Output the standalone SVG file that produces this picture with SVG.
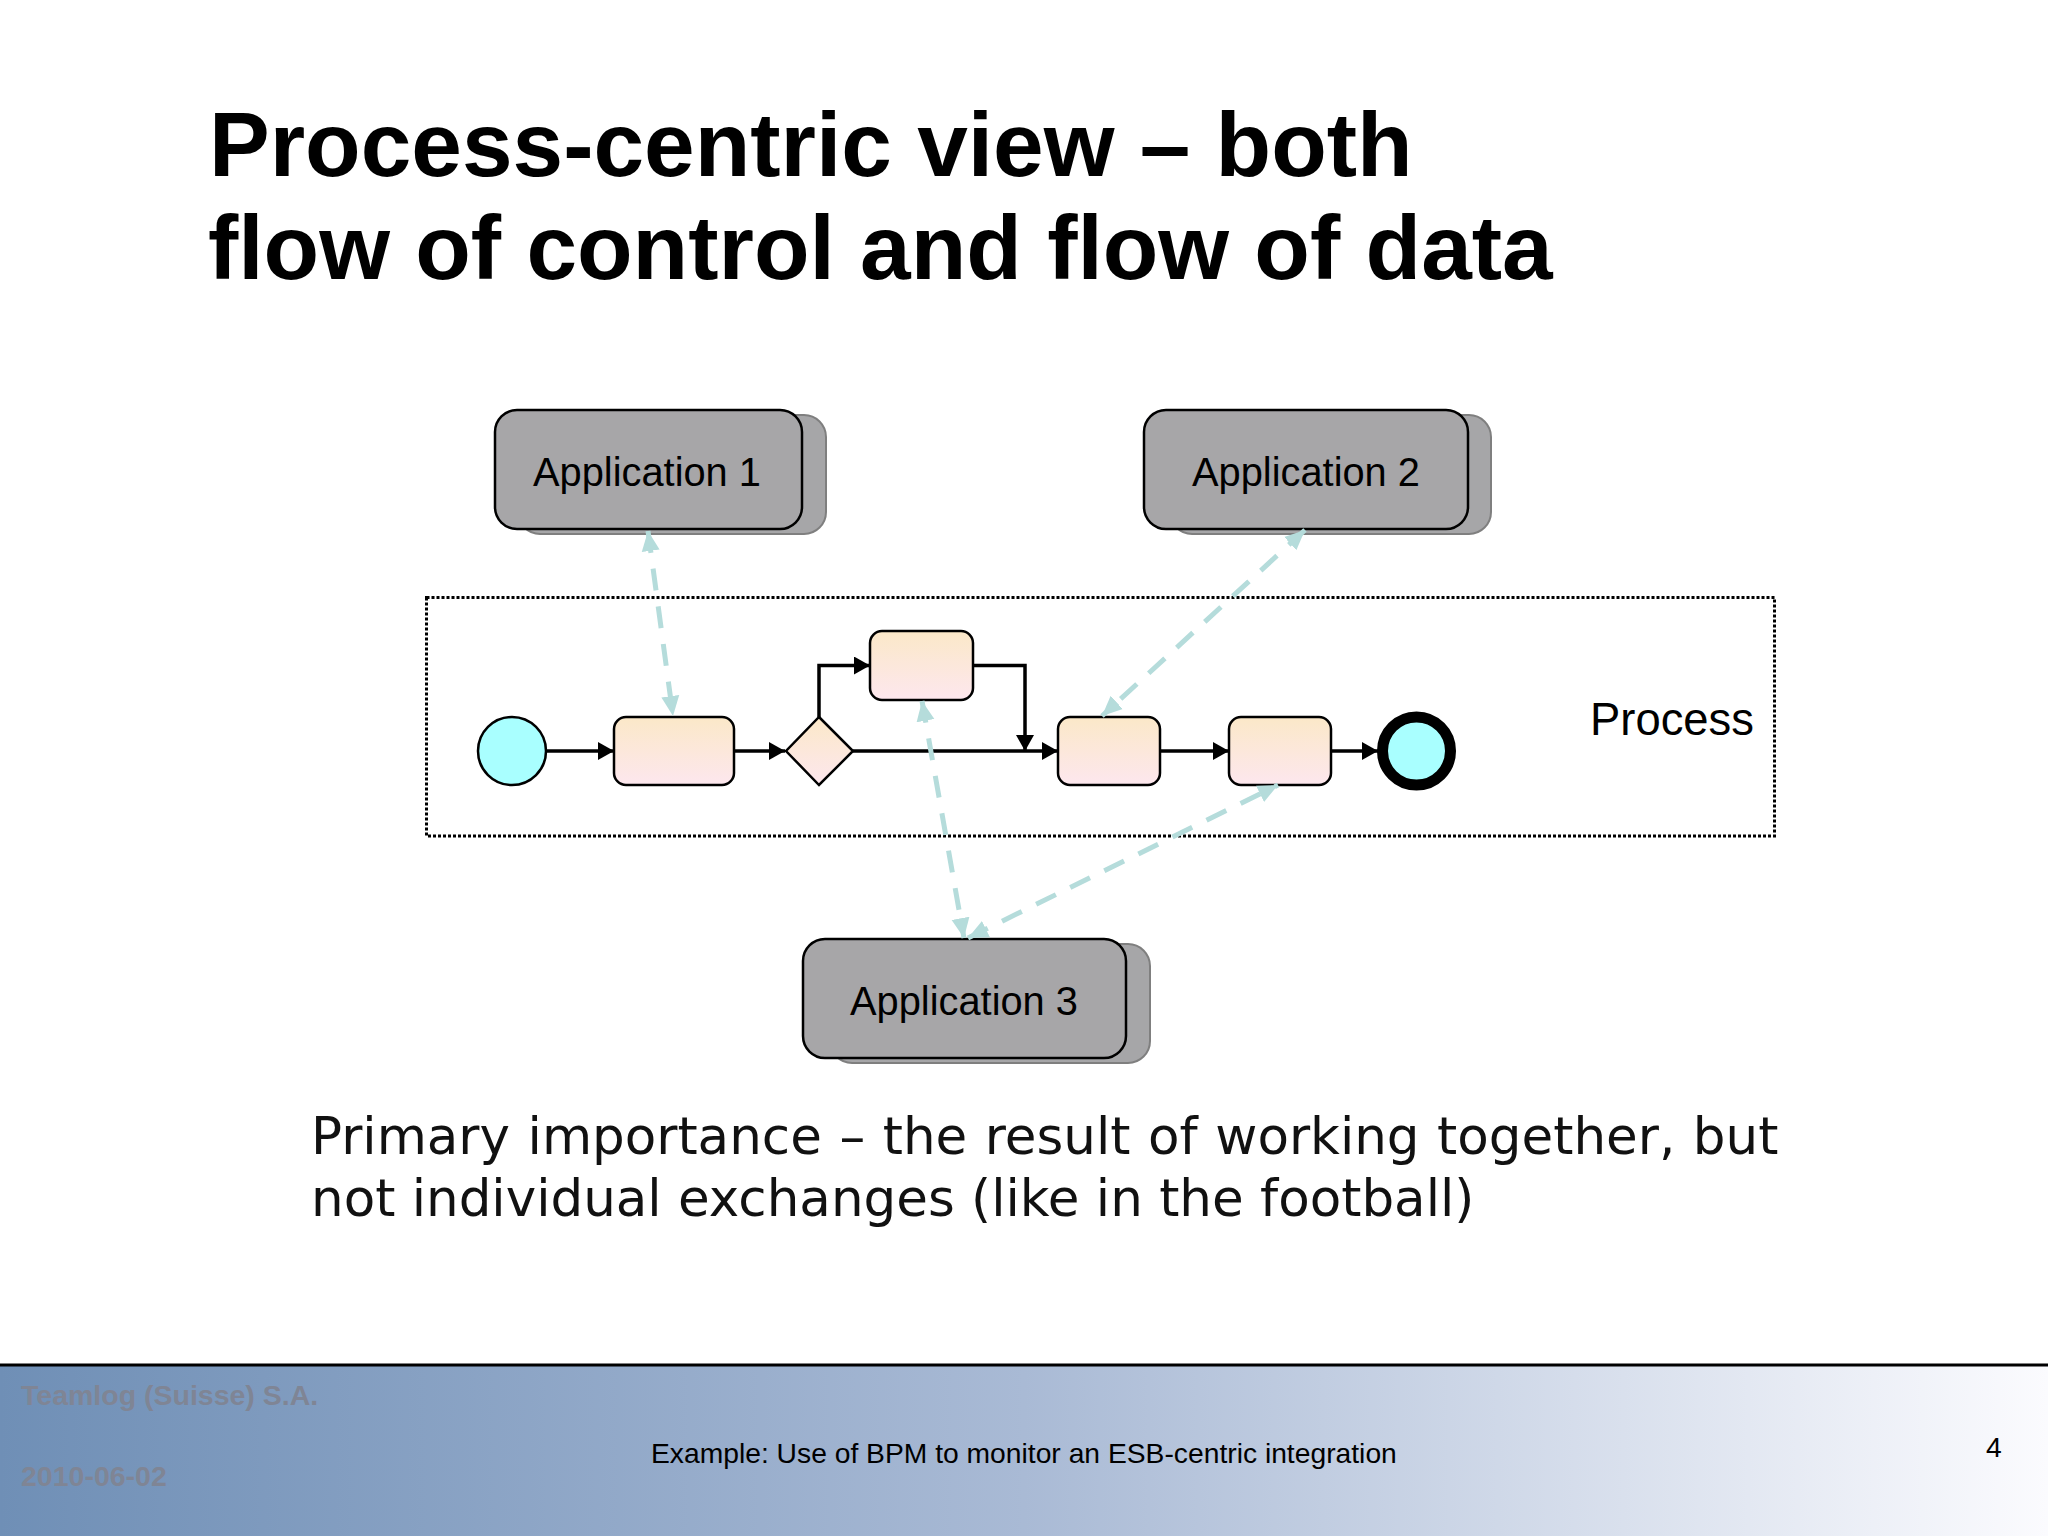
<svg xmlns="http://www.w3.org/2000/svg" width="2048" height="1536" viewBox="0 0 2048 1536">
<style>
text{font-family:"Liberation Sans",Arial,sans-serif;fill:#000}
.title{font-size:91px;font-weight:700}
.body{font-family:"DejaVu Sans",sans-serif;font-size:51.500px;fill:#111}
.app{font-size:39.800px;text-anchor:middle}
.foot{font-size:28.250px}
.muted{font-size:28.500px;font-weight:700;fill:#7f8595}
.back{fill:#a6a6a8;stroke:#7f7f7f;stroke-width:2}
.front{fill:#a7a6a8;stroke:#000;stroke-width:2.500}
.task{fill:url(#taskFill);stroke:#000;stroke-width:2.500}
.flow{fill:none;stroke:#000;stroke-width:3.500}
.msg{fill:none;stroke:#b5dcdb;stroke-width:5;stroke-dasharray:22 16}
</style>
<defs>
<linearGradient id="taskFill" x1="0" y1="0" x2="0" y2="1"><stop offset="0" stop-color="#fbe8c8"/><stop offset="1" stop-color="#fde7ee"/></linearGradient>
<linearGradient id="footFill" x1="0" y1="0" x2="1" y2="0"><stop offset="0" stop-color="#6f8fb6"/><stop offset=".5" stop-color="#a9bad5"/><stop offset="1" stop-color="#fbfbfe"/></linearGradient>
<marker id="flowHead" markerUnits="userSpaceOnUse" markerWidth="16" markerHeight="18" refX="16" refY="9" orient="auto"><path d="M0 0L16 9L0 18Z" fill="#000"/></marker>
<marker id="msgHead" markerUnits="userSpaceOnUse" markerWidth="22" markerHeight="22" refX="20" refY="11" orient="auto"><path d="M0 2L20 11L0 20Z" fill="#b5dcdb"/></marker>
<marker id="msgStart" markerUnits="userSpaceOnUse" markerWidth="22" markerHeight="22" refX="2" refY="11" orient="auto"><path d="M22 2L2 11L22 20Z" fill="#b5dcdb"/></marker>
</defs>
<rect width="2048" height="1536" fill="#fff"/>
<text class="title" x="209" y="176">Process-centric view – both</text>
<text class="title" x="208" y="279">flow of control and flow of data</text>
<g id="process-frame"><rect x="426.500" y="597.500" width="1348" height="238.500" fill="none" stroke="#000" stroke-width="3" stroke-dasharray="3 2"/><text x="1590" y="735" font-size="45.400">Process</text></g>
<g id="application-1"><rect class="back" x="518" y="415" width="308" height="119" rx="22"/><rect class="front" x="495" y="410" width="307" height="119" rx="22"/><text class="app" x="647" y="486">Application 1</text></g>
<g id="application-2"><rect class="back" x="1170" y="415" width="321" height="119" rx="22"/><rect class="front" x="1144" y="410" width="324" height="119" rx="22"/><text class="app" x="1306" y="486">Application 2</text></g>
<g id="application-3"><rect class="back" x="830" y="944" width="320" height="119" rx="22"/><rect class="front" x="803" y="939" width="323" height="119" rx="22"/><text class="app" x="964" y="1015">Application 3</text></g>
<g id="start"><ellipse cx="512" cy="751" rx="34" ry="34" fill="#a9ffff" stroke="#000" stroke-width="2.500"/></g>
<g id="task-1"><rect class="task" x="614" y="717" width="120" height="68" rx="12"/></g>
<g id="gateway"><path class="task" d="M819 717L853 751L819 785L786 751Z"/></g>
<g id="task-2"><rect class="task" x="870" y="631" width="103" height="69" rx="12"/></g>
<g id="task-3"><rect class="task" x="1058" y="717" width="102" height="68" rx="12"/></g>
<g id="task-4"><rect class="task" x="1229" y="717" width="102" height="68" rx="12"/></g>
<g id="end"><ellipse cx="1416.500" cy="751" rx="34" ry="34" fill="#a9ffff" stroke="#000" stroke-width="11"/></g>
<g id="connectors">
<path class="flow" marker-end="url(#flowHead)" d="M546 751H614"/>
<path class="flow" marker-end="url(#flowHead)" d="M734 751H785"/>
<path class="flow" marker-end="url(#flowHead)" d="M819 717V665.500H870"/>
<path class="flow" marker-end="url(#flowHead)" d="M973 665.500H1025V751"/>
<path class="flow" marker-end="url(#flowHead)" d="M853 751H1058"/>
<path class="flow" marker-end="url(#flowHead)" d="M1160 751H1229"/>
<path class="flow" marker-end="url(#flowHead)" d="M1331 751H1378"/>
<path class="msg" marker-start="url(#msgStart)" marker-end="url(#msgHead)" d="M648 531L673 716"/>
<path class="msg" marker-start="url(#msgStart)" marker-end="url(#msgHead)" d="M1305 530L1102 716"/>
<path class="msg" marker-start="url(#msgStart)" marker-end="url(#msgHead)" d="M922 701L964 938"/>
<path class="msg" marker-start="url(#msgStart)" marker-end="url(#msgHead)" d="M968 938L1278 785"/>
</g>
<text class="body" x="311" y="1154" word-spacing="1.200">Primary importance – the result of working together, but</text>
<text class="body" x="311" y="1216">not individual exchanges (like in the football)</text>
<rect y="1365" width="2048" height="171" fill="url(#footFill)"/>
<path d="M0 1365H2048" stroke="#000" stroke-width="3"/>
<text class="muted" x="21" y="1405">Teamlog (Suisse) S.A.</text>
<text class="muted" x="21" y="1486">2010-06-02</text>
<text class="foot" x="651" y="1463">Example: Use of BPM to monitor an ESB-centric integration</text>
<text class="foot" x="1986" y="1457">4</text>
</svg>
